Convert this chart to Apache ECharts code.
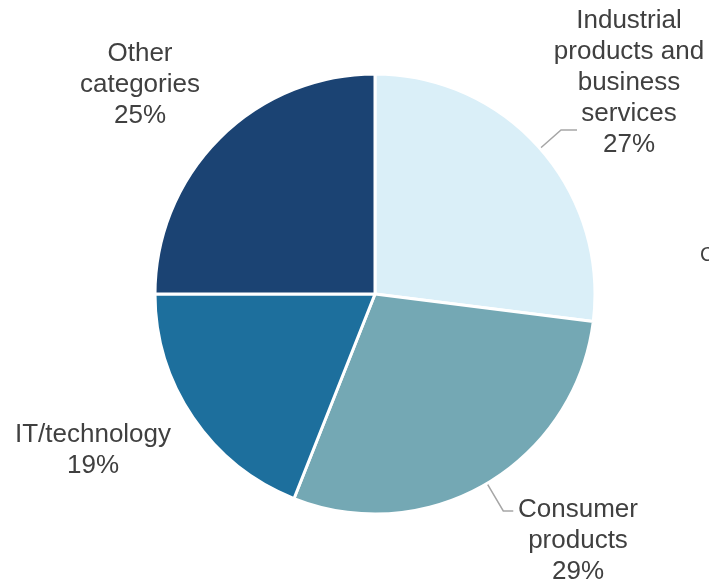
<!DOCTYPE html>
<html>
<head>
<meta charset="utf-8">
<script src="https://cdn.jsdelivr.net/npm/echarts@6/dist/echarts.min.js"></script>
<style>
  html, body { margin: 0; padding: 0; background: #ffffff; }
  #chart { width: 709px; height: 581px; }
</style>
</head>
<body>
<div id="chart"></div>
<script>
// Sector shares, clockwise from 12 o'clock
const categories = [
  'Industrial\nproducts and\nbusiness\nservices',
  'Consumer\nproducts',
  'IT/technology',
  'Other\ncategories'
];
const shares = [27, 29, 19, 25];
const sliceColors = ['#DAEFF8', '#74A8B4', '#1D6F9D', '#1B4373'];

// Label block centres, and leader-line segment lengths (0 = no leader)
const labelCentres = [[629, 83], [578, 541], [93, 450], [140, 85]];
const leaderLengths = [[28, 16], [32, 10], [0, 0], [0, 0]];

const pieCenter = [375, 294];
const pieRadius = 220;
const textFont = 'Liberation Sans, Arial, sans-serif';

const chart = echarts.init(document.getElementById('chart'), null, { renderer: 'canvas' });

const sliceData = categories.map((name, i) => ({
  name: name,
  value: shares[i],
  itemStyle: { color: sliceColors[i] }
}));

// Same shares again, only to carry the leader lines
const leaderData = categories.map((name, i) => ({
  name: name,
  value: shares[i],
  label: { show: leaderLengths[i][0] > 0 },
  labelLine: {
    show: leaderLengths[i][0] > 0,
    length: leaderLengths[i][0],
    length2: leaderLengths[i][1]
  }
}));

chart.setOption({
  animation: false,
  backgroundColor: '#ffffff',
  series: [{
    type: 'pie',
    center: pieCenter,
    radius: pieRadius,
    startAngle: 90,
    clockwise: true,
    data: sliceData,
    itemStyle: { borderColor: '#ffffff', borderWidth: 3 },
    label: {
      show: true,
      position: 'outside',
      formatter: '{b}\n{d}%',
      fontFamily: textFont,
      fontSize: 26,
      lineHeight: 31,
      color: '#404040',
      align: 'center',
      overflow: 'none'
    },
    labelLine: { show: false },
    labelLayout: function (params) {
      const c = labelCentres[params.dataIndex];
      return { x: c[0], y: c[1], align: 'center', verticalAlign: 'middle' };
    },
    emphasis: { disabled: true }
  }, {
    type: 'pie',
    center: pieCenter,
    radius: pieRadius,
    startAngle: 90,
    clockwise: true,
    silent: true,
    avoidLabelOverlap: false,
    data: leaderData,
    itemStyle: { color: 'rgba(0,0,0,0)', borderWidth: 0 },
    label: {
      position: 'outside',
      formatter: ' ',
      fontSize: 10,
      color: 'rgba(0,0,0,0)'
    },
    labelLine: {
      lineStyle: { color: '#A6A6A6', width: 1.5 }
    },
    emphasis: { disabled: true }
  }],
  graphic: [{
    type: 'text',
    left: 700,
    top: 245,
    style: {
      text: 'C',
      font: '20px ' + textFont,
      fill: '#404040'
    }
  }]
});
</script>
</body>
</html>
